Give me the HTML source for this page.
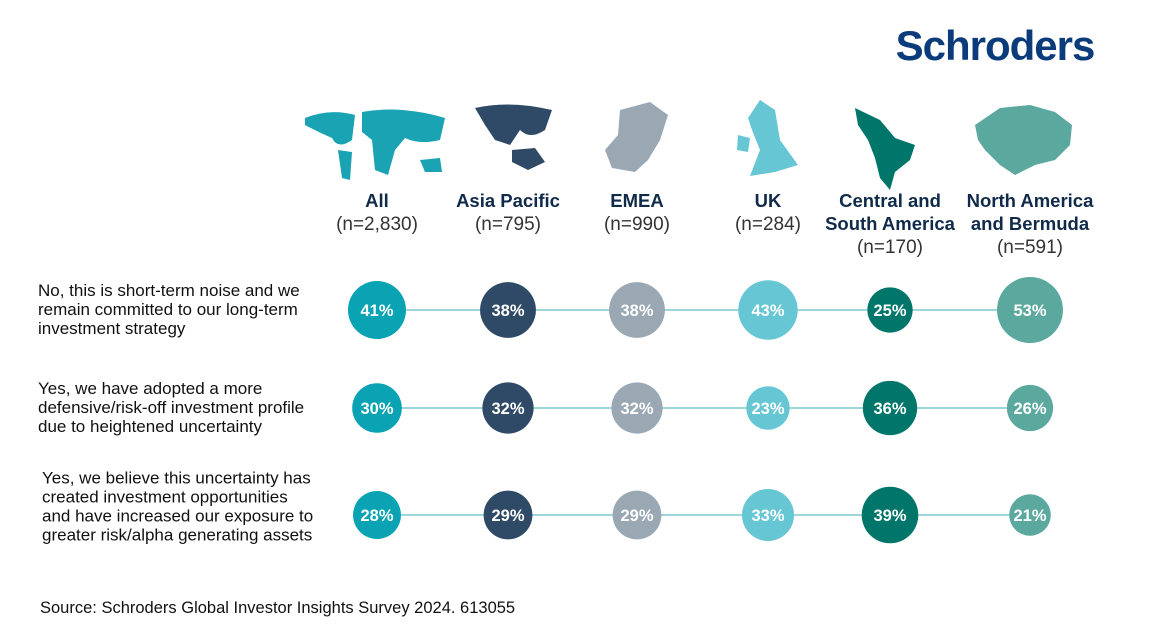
<!DOCTYPE html>
<html><head><meta charset="utf-8"><style>
body{margin:0;width:1153px;height:638px;background:#fff;overflow:hidden;font-family:"Liberation Sans",sans-serif;}
svg text{font-family:"Liberation Sans",sans-serif;}
</style></head><body>
<svg width="1153" height="638" id="chart">
<text x="995" y="60" text-anchor="middle" font-size="42" font-weight="bold" fill="#0b3b7a" letter-spacing="-1">Schroders</text>
<g fill="#1aa3b3">
<path d="M305 118 Q330 108 355 115 L352 140 Q338 150 332 138 Q318 132 305 125Z"/>
<path d="M338 150 L352 152 L350 180 L342 178Z"/>
<path d="M362 112 Q400 105 445 118 L440 140 Q420 145 405 138 L395 150 L388 175 L375 170 L372 140 L362 132Z"/>
<path d="M420 160 L440 158 L442 172 L425 172Z"/>
</g>
<g fill="#2f4a66">
<path d="M475 108 Q510 100 552 110 L545 130 Q530 140 520 130 L510 145 L495 140 L485 125Z"/>
<path d="M512 150 L535 148 L545 162 L528 170 L512 162Z"/>
</g>
<g fill="#9aa8b4">
<path d="M620 110 L650 102 L668 115 L660 140 L648 160 L635 172 L612 168 L605 150 L618 135Z"/>
</g>
<g fill="#66c6d4">
<path d="M760 100 L775 110 L780 140 L798 165 L775 172 L750 176 L760 150 L752 130 L748 118Z"/>
<path d="M738 135 L750 138 L748 152 L737 150Z"/>
</g>
<g fill="#00766a">
<path d="M855 108 L880 120 L895 138 L915 145 L910 160 L895 172 L890 190 L880 178 L875 158 L868 140 L858 125Z"/>
</g>
<g fill="#5aa89e">
<path d="M975 125 L1000 108 L1030 105 L1055 112 L1072 125 L1070 145 L1055 160 L1035 165 L1015 175 L1000 165 L985 150 L978 140Z"/>
</g>
<g id="heads"></g>
<g id="rows"></g>
<g id="marks"></g>
<text x="40" y="613" font-size="16.5" fill="#111">Source: Schroders Global Investor Insights Survey 2024. 613055</text>
</svg>
<script>
const regions=["All","Asia Pacific","EMEA","UK","Central and South America","North America and Bermuda"];
const headLines=[["All"],["Asia Pacific"],["EMEA"],["UK"],["Central and","South America"],["North America","and Bermuda"]];
const sampleSizes=["(n=2,830)","(n=795)","(n=990)","(n=284)","(n=170)","(n=591)"];
const questions=[["No, this is short-term noise and we","remain committed to our long-term","investment strategy"],["Yes, we have adopted a more","defensive/risk-off investment profile","due to heightened uncertainty"],["Yes, we believe this uncertainty has","created investment opportunities","and have increased our exposure to","greater risk/alpha generating assets"]];
const row1=[41,38,38,43,25,53];
const row2=[30,32,32,23,36,26];
const row3=[28,29,29,33,39,21];
const colors=["#0aa3b4","#2f4a66","#9aa8b4","#66c6d4","#00766a","#5aa89e"];
const values=[row1,row2,row3];
const ns="http://www.w3.org/2000/svg";
const colX=[377,508,637,768,890,1030];
const rowY=[310,408,515];
const xPos=i=>colX[i];
const yPos=j=>rowY[j];
const rScale=v=>4.53*Math.sqrt(v);
function mk(tag,attrs,parent){const e=document.createElementNS(ns,tag);for(const k in attrs)e.setAttribute(k,attrs[k]);parent.appendChild(e);return e;}
const heads=document.getElementById('heads');
regions.forEach((r,i)=>{
 const g=mk('g',{},heads);
 
 
 const lines=headLines[i];let y=207;
 lines.forEach((l,k)=>{const t=mk('text',{x:xPos(i),y:y+k*23,'text-anchor':'middle','font-size':18.5,'font-weight':'bold',fill:'#102a4a'},g);t.textContent=l;});
 const t=mk('text',{x:xPos(i),y:y+lines.length*23,'text-anchor':'middle','font-size':19,fill:'#333'},g);t.textContent=sampleSizes[i];
});
const rows=document.getElementById('rows');
questions.forEach((q,j)=>{
 const g=mk('g',{},rows);
 
 
 const start=yPos(j)-(q.length-1)*19/2+5-(j==2?8:0);
 q.forEach((l,k)=>{const t=mk('text',{x:j==2?42:38,y:start+k*19,'font-size':17,fill:'#111'},g);t.textContent=l;});
 const ln=mk('line',{x1:xPos(0),x2:xPos(5),y1:yPos(j),y2:yPos(j),stroke:'#7fc9d3','stroke-width':1.5},rows);
 
 
});
const marks=document.getElementById('marks');
values.forEach((row,j)=>row.forEach((v,i)=>{
 const c=mk('circle',{cx:xPos(i),cy:yPos(j),r:rScale(v),fill:colors[i]},marks);
 
 
 const t=mk('text',{x:xPos(i),y:yPos(j)+6,'text-anchor':'middle','font-size':16.5,'font-weight':'bold',fill:'#fff'},marks);
 
 
 t.textContent=v+'%';
}));
</script>
</body></html>
